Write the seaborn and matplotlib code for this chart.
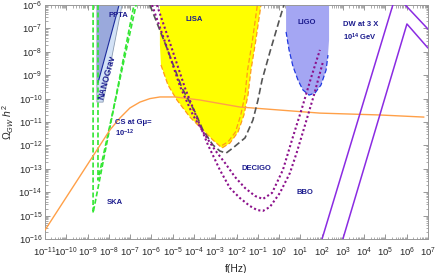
import numpy as np
import matplotlib
matplotlib.use("Agg")
import matplotlib.pyplot as plt
import seaborn as sns
from matplotlib.ticker import FixedLocator, LogLocator, NullFormatter

# all values are log10(f / Hz) and log10(Omega_GW h^2)
cs_logf = [-11.0, -7.95, -7.48, -7.01, -6.54, -6.07, -5.6, -4.89, -3.72, -1.84, 0.04, 1.92, 4.74, 6.81]
cs_logomega = [-15.62, -11.34, -10.83, -10.4, -10.15, -10.0, -9.93, -9.93, -10.06, -10.36, -10.49, -10.62, -10.7, -10.79]

ska1_logf = [-8.74, -8.74, -6.82]
ska1_logomega = [-6.0, -14.89, -6.0]
ska2_logf = [-8.51, -8.51, -6.72]
ska2_logomega = [-6.0, -13.48, -6.0]

ppta_logf = [-8.56, -7.52, -8.51, -8.56]
ppta_logomega = [-6.0, -6.0, -9.33, -9.33]
nano_logf = [-8.56, -7.38, -8.27, -8.56]
nano_logomega = [-6.0, -6.0, -10.15, -10.15]

lisa_fill_logf = [-5.6, -5.6, -5.55, -5.22, -4.8, -4.19, -3.58, -3.11, -2.68,
                  -2.31, -1.93, -1.65, -1.46, -1.32, -1.09, -0.85]
lisa_fill_logomega = [-6.0, -7.71, -8.56, -9.42, -10.06, -10.79, -11.34, -11.77, -12.11,
                      -11.9, -11.43, -10.7, -9.85, -8.78, -7.5, -6.0]
lisa2_logf = [-2.68, -2.4, -2.05, -1.8, -1.6, -1.48, -1.25, -1.02]
lisa2_logomega = [-12.0, -11.85, -11.43, -10.7, -9.85, -8.78, -7.5, -6.0]

gray_logf = [-6.07, -5.31, -4.56, -3.95, -3.58, -3.11, -2.78, -2.49, -2.17, -1.6, -1.23, -0.99, -0.8, -0.43, 0.04, 0.23]
gray_logomega = [-6.0, -7.75, -9.55, -10.57, -11.34, -11.98, -12.24, -12.33, -12.11, -11.68, -10.92, -10.06, -9.21, -8.01, -6.56, -6.0]

decigo_logf = [-5.97, -5.31, -4.66, -4.05, -3.48, -3.01, -2.54, -2.07, -1.6, -1.13, -0.76, -0.33, 0.18, 0.65, 1.08, 1.5, 1.92]
decigo_logomega = [-6.0, -7.71, -9.46, -10.7, -11.56, -12.2, -12.75, -13.35, -13.82, -14.16, -14.29, -14.03, -13.05, -11.64, -10.4, -9.12, -7.92]
bbo_logf = [-5.74, -5.08, -4.42, -3.86, -3.34, -2.78, -2.31, -1.84, -1.37, -1.04, -0.76, -0.43, 0.04, 0.51, 0.84, 1.22, 1.64, 2.06]
bbo_logomega = [-6.0, -7.75, -9.55, -10.83, -11.98, -13.05, -13.82, -14.25, -14.59, -14.76, -14.8, -14.63, -14.03, -13.18, -12.28, -11.13, -9.85, -8.44]

ligo_logf = [0.33, 0.33, 0.47, 0.65, 0.89, 1.12, 1.41, 1.69, 1.97, 2.21, 2.3, 2.35, 2.35]
ligo_logomega = [-6.0, -7.15, -7.92, -8.61, -9.21, -9.63, -9.85, -9.76, -9.42, -8.78, -8.14, -7.5, -6.0]

dw1_logf = [2.02, 5.49, 7.0]
dw1_logomega = [-16.0, -5.57, -7.03]
dw2_logf = [3.0, 6.01, 7.0]
dw2_logomega = [-16.0, -6.81, -7.84]

x_decades = list(range(-11, 8))
y_decades = list(range(-16, -5))


def pw(v):
    return 10.0 ** np.asarray(v)


sns.set_style("ticks")
plt.rcParams["font.family"] = ["Liberation Sans", "DejaVu Sans"]
plt.rcParams["mathtext.fontset"] = "custom"
plt.rcParams["mathtext.rm"] = "Liberation Sans"
plt.rcParams["mathtext.it"] = "Liberation Sans:italic"
plt.rcParams["mathtext.bf"] = "Liberation Sans:bold"

fig = plt.figure(figsize=(4.36, 2.73), dpi=100)
ax = fig.add_axes([45 / 436, 1 - 239 / 273, 383 / 436, 234 / 273])
ax.set_xscale("log")
ax.set_yscale("log")

# filled regions
ax.fill(pw(nano_logf), pw(nano_logomega), color="#d3e2f6", ec="#8a9ab0", lw=0.6, zorder=1)
ax.fill(pw(ppta_logf), pw(ppta_logomega), color="#9aa9dc", ec="none", zorder=1.1)
sns.lineplot(x=pw(ppta_logf[1:3]), y=pw(ppta_logomega[1:3]), color="#1c2a9c", lw=0.8, sort=False, estimator=None, ax=ax, zorder=1.2)
ax.fill(pw(lisa_fill_logf), pw(lisa_fill_logomega), color="#ffff00", ec="none", zorder=1)
ax.fill(pw(ligo_logf), pw(ligo_logomega), color="#a4a6f3", ec="none", zorder=1)

lisa_dash = (0, (4, 2))
sns.lineplot(x=pw(lisa_fill_logf[2:]), y=pw(lisa_fill_logomega[2:]), color="#ff9a1a", lw=0.9,
             linestyle=lisa_dash, sort=False, estimator=None, ax=ax, zorder=2)
sns.lineplot(x=pw(lisa2_logf), y=pw(lisa2_logomega), color="#ff9a1a", lw=0.9,
             linestyle=lisa_dash, sort=False, estimator=None, ax=ax, zorder=2)
sns.lineplot(x=pw(ligo_logf[1:-2]), y=pw(ligo_logomega[1:-2]), color="#2038e0", lw=0.9,
             linestyle=(0, (4, 2)), sort=False, estimator=None, ax=ax, zorder=2)

# SKA
for lf, lo in [(ska1_logf, ska1_logomega), (ska2_logf, ska2_logomega)]:
    sns.lineplot(x=pw(lf), y=pw(lo), color="#33e633", lw=1.2, linestyle=(0, (3, 1.5)),
                 sort=False, estimator=None, ax=ax, zorder=3)

# cosmic strings
sns.lineplot(x=pw(cs_logf), y=pw(cs_logomega), color="#ffa048", lw=1.0, sort=False, estimator=None, ax=ax, zorder=3)

# gray dashed, DECIGO, BBO
sns.lineplot(x=pw(gray_logf), y=pw(gray_logomega), color="#555555", lw=1.2, linestyle=(0, (4, 2)),
             sort=False, estimator=None, ax=ax, zorder=3)
for lf, lo in [(decigo_logf, decigo_logomega), (bbo_logf, bbo_logomega)]:
    sns.lineplot(x=pw(lf), y=pw(lo), color="#8b108b", lw=1.5, linestyle=(0, (1, 1.2)),
                 sort=False, estimator=None, ax=ax, zorder=3)

# domain walls
for lf, lo in [(dw1_logf, dw1_logomega), (dw2_logf, dw2_logomega)]:
    sns.lineplot(x=pw(lf), y=pw(lo), color="#8a2be2", lw=1.1, sort=False, estimator=None, ax=ax, zorder=3)

ax.set_xlim(1e-11, 1e7)
ax.set_ylim(1e-16, 1e-6)

lab = dict(color="#1c1c8e", fontsize=5.5, fontweight="bold", zorder=5)
ax.text(10 ** -7.57, 10 ** -6.47, "PPTA", ha="center", va="center", **lab)
ax.text(10 ** -8.11, 10 ** -9.1, "NANOGrav", ha="center", va="center", rotation=75,
        color="#1c1c8e", fontsize=6.2, fontweight="bold", zorder=5)
ax.text(10 ** -4.0, 10 ** -6.64, "LISA", ha="center", va="center", **lab)
ax.text(10 ** 1.31, 10 ** -6.73, "LIGO", ha="center", va="center", **lab)
ax.text(10 ** 3.0, 10 ** -6.85, "DW at 3 X", ha="left", va="center", **lab)
ax.text(10 ** 3.0, 10 ** -7.37, r"10$^{\mathbf{14}}$ GeV", ha="left", va="center", **lab)
ax.text(10 ** -7.7, 10 ** -11.04, "CS at Gμ=", ha="left", va="center", **lab)
ax.text(10 ** -7.7, 10 ** -11.5, r"10$^{\mathbf{-12}}$", ha="left", va="center", **lab)
ax.text(10 ** -1.04, 10 ** -12.97, "DECIGO", ha="center", va="center", **lab)
ax.text(10 ** -7.71, 10 ** -14.46, "SKA", ha="center", va="center", **lab)
ax.text(10 ** 1.22, 10 ** -14.03, "BBO", ha="center", va="center", **lab)

ax.xaxis.set_major_locator(FixedLocator(pw(x_decades)))
ax.yaxis.set_major_locator(FixedLocator(pw(y_decades)))
ax.set_xticklabels([r"$10^{%d}$" % k for k in x_decades])
ax.set_yticklabels([r"$10^{%d}$" % k for k in y_decades])
ax.xaxis.set_minor_locator(LogLocator(base=10, subs=np.arange(2, 10), numticks=200))
ax.yaxis.set_minor_locator(LogLocator(base=10, subs=np.arange(2, 10), numticks=200))
ax.xaxis.set_minor_formatter(NullFormatter())
ax.yaxis.set_minor_formatter(NullFormatter())
ax.tick_params(which="both", direction="in", top=True, right=True, color="#888888", labelsize=6.8, pad=2)
ax.tick_params(axis="x", which="major", pad=4.5)
ax.tick_params(which="major", length=3.5, width=0.6)
ax.tick_params(which="minor", length=1.8, width=0.5)
for s in ax.spines.values():
    s.set_color("#999999")
    s.set_linewidth(0.7)

ax.set_xlabel("f(Hz)", fontsize=7.5, labelpad=4)
ax.set_ylabel(r"$\Omega_{GW}\ h^2$", fontsize=7.5, labelpad=2)

fig.savefig("out.png", dpi=100)
